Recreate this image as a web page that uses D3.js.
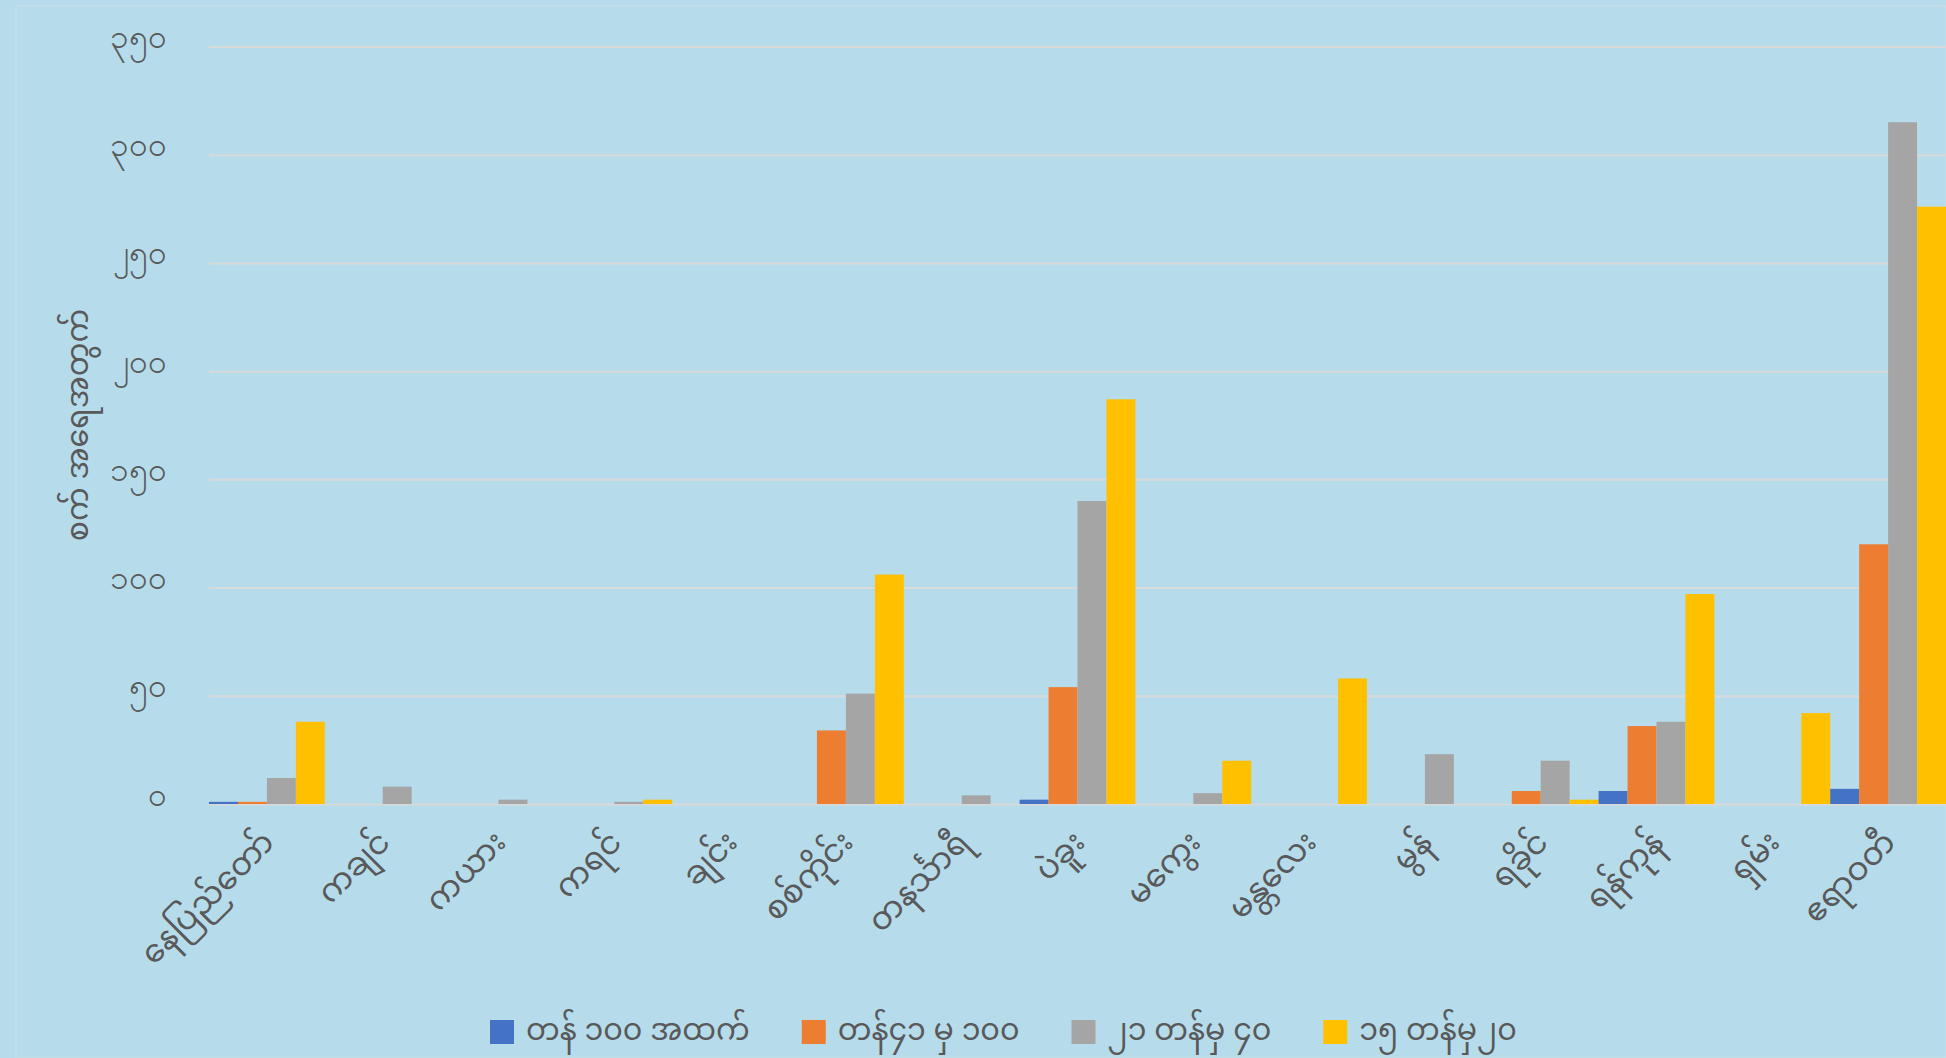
<!DOCTYPE html>
<html>
<head>
<meta charset="utf-8">
<script src="https://cdn.jsdelivr.net/npm/d3@7"></script>
<style>
  body { margin: 0; background: #b6dcec; }
  svg { display: block; font-family: "Noto Sans Myanmar", "Padauk", "Myanmar Text", "Noto Sans", sans-serif; }
</style>
</head>
<body>
<div id="viz"></div>
<script>
// regions / states
var categories = ["နေပြည်တော်", "ကချင်", "ကယား", "ကရင်", "ချင်း", "စစ်ကိုင်း", "တနင်္သာရီ",
  "ပဲခူး", "မကွေး", "မန္တလေး", "မွန်", "ရခိုင်", "ရန်ကုန်", "ရှမ်း", "ဧရာဝတီ"];

var seriesNames = ["တန် ၁၀၀ အထက်", "တန်၄၁ မှ ၁၀၀", "၂၁ တန်မှ ၄၀", "၁၅ တန်မှ၂၀"];

var over100   = [1, 0, 0, 0, 0, 0, 0, 2, 0, 0, 0, 0, 6, 0, 7];
var from41    = [1, 0, 0, 0, 0, 34, 0, 54, 0, 0, 0, 6, 36, 0, 120];
var from21    = [12, 8, 2, 1, 0, 51, 4, 140, 5, 0, 23, 20, 38, 0, 315];
var from15    = [38, 0, 0, 2, 0, 106, 0, 187, 20, 58, 0, 2, 97, 42, 276];

var yTicks = [0, 50, 100, 150, 200, 250, 300, 350];
var yTitle = "စက် အရေအတွက်";

var colors = ["#4472c4", "#ed7d31", "#a5a5a5", "#ffc000"];

var mmDigits = "၀၁၂၃၄၅၆၇၈၉";
function mm(n) { return String(n).replace(/\d/g, function (d) { return mmDigits[d]; }); }

var w = 1946, h = 1058;
var plotLeft = 209, plotRight = 1946, plotTop = 46.5, plotBottom = 804;
var fs = "30px";

var svg = d3.select("#viz").append("svg")
  .attr("width", w)
  .attr("height", h);

svg.append("rect")
  .attr("width", w).attr("height", h)
  .style("fill", "#b6dcec");

svg.append("rect")
  .attr("x", 16).attr("y", 6)
  .attr("width", w - 16).attr("height", h - 6)
  .style("fill", "none")
  .style("stroke", "#cfdde4")
  .style("stroke-width", 1);

var x0 = d3.scaleBand().domain(categories).range([plotLeft, plotRight]).padding(0);
var x1 = d3.scaleBand().domain(d3.range(4)).range([0, x0.bandwidth()]).padding(0);
var y = d3.scaleLinear().domain([0, 350]).range([plotBottom, plotTop]);

var yAxis = svg.append("g")
  .attr("transform", "translate(" + plotLeft + ",0)")
  .call(d3.axisLeft(y)
    .tickValues(yTicks)
    .tickSize(-(plotRight - plotLeft))
    .tickPadding(42)
    .tickFormat(mm));

yAxis.select(".domain").remove();
yAxis.selectAll(".tick line")
  .style("stroke", "#d9d9d9")
  .style("stroke-width", 2);
yAxis.selectAll(".tick text")
  .attr("dy", "0.03em")
  .style("fill", "#595959")
  .style("font-size", "33px");

var rows = categories.map(function (c, i) {
  return { cat: c, values: [over100[i], from41[i], from21[i], from15[i]] };
});

var groups = svg.selectAll(".grp")
  .data(rows)
  .enter().append("g")
  .attr("class", "grp")
  .attr("transform", function (d) { return "translate(" + x0(d.cat) + ",0)"; });

groups.selectAll("rect")
  .data(function (d) { return d.values.map(function (v, k) { return { k: k, v: v }; }); })
  .enter().append("rect")
  .attr("x", function (d) { return x1(d.k); })
  .attr("width", x1.bandwidth())
  .attr("y", function (d) { return y(d.v); })
  .attr("height", function (d) { return y(0) - y(d.v); })
  .style("fill", function (d) { return colors[d.k]; });

// category labels, rotated
svg.selectAll(".cat")
  .data(categories)
  .enter().append("text")
  .attr("class", "cat")
  .attr("transform", function (d) {
    return "translate(" + (x0(d) + x0.bandwidth() / 2 + 9) + "," + (plotBottom + 40) + ") rotate(-45)";
  })
  .attr("text-anchor", "end")
  .style("fill", "#595959")
  .style("font-size", "32px")
  .text(function (d) { return d; });

// y title
svg.append("text")
  .attr("transform", "translate(88,425) rotate(-90)")
  .attr("text-anchor", "middle")
  .style("fill", "#595959")
  .style("font-size", fs)
  .text(yTitle);

// legend
var legend = svg.append("g");
var lx = 490;
seriesNames.forEach(function (name, k) {
  var g = legend.append("g").attr("transform", "translate(" + lx + ",1020)");
  g.append("rect").attr("width", 24).attr("height", 24).style("fill", colors[k]);
  var t = g.append("text")
    .attr("x", 36).attr("y", 20)
    .style("fill", "#595959")
    .style("font-size", fs)
    .text(name);
  lx += 36 + t.node().getComputedTextLength() + 52;
});
</script>
</body>
</html>
